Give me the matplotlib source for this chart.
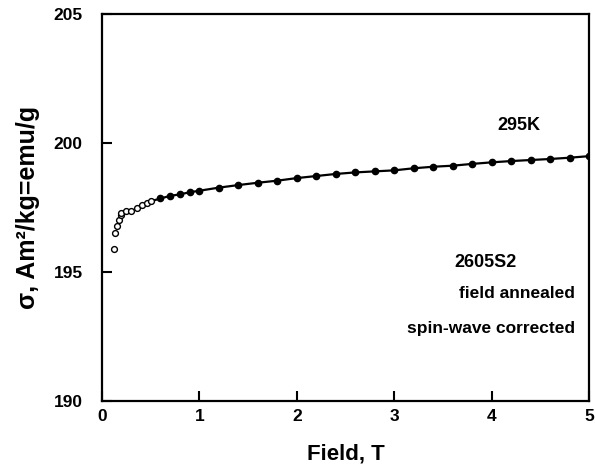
import matplotlib
matplotlib.use('Agg')
import matplotlib.pyplot as plt
import numpy as np

plt.rcParams['font.family'] = ['Liberation Sans', 'DejaVu Sans']
plt.rcParams['font.weight'] = 'bold'

# low-field points (open circles)
field_open = [0.12, 0.13, 0.15, 0.17, 0.19, 0.20, 0.25, 0.30, 0.36, 0.41, 0.46, 0.50]
sigma_open = [195.9, 196.5, 196.8, 197.0, 197.2, 197.3, 197.35, 197.37, 197.49, 197.59, 197.68, 197.74]

# higher-field points (filled circles)
field_fill = [0.6, 0.7, 0.8, 0.9, 1.0, 1.2, 1.4, 1.6, 1.8, 2.0, 2.2, 2.4, 2.6,
              2.8, 3.0, 3.2, 3.4, 3.6, 3.8, 4.0, 4.2, 4.4, 4.6, 4.8, 5.0]
sigma_fill = [197.85, 197.95, 198.01, 198.09, 198.15, 198.27, 198.37, 198.46,
              198.54, 198.64, 198.72, 198.80, 198.86, 198.90, 198.94, 199.02,
              199.08, 199.12, 199.19, 199.25, 199.30, 199.34, 199.38, 199.43, 199.49]

xticks = [0, 1, 2, 3, 4, 5]
yticks = [190, 195, 200, 205]

fig = plt.figure(figsize=(5.95, 4.66), dpi=100)
ax = fig.add_axes([102 / 595, 1 - 401 / 466, 487 / 595, 387 / 466])

# fitted line through the upper part of the curve
line_x = field_open[-2:] + field_fill
line_y = sigma_open[-2:] + sigma_fill
ax.plot(line_x, line_y, color='black', lw=1.6, zorder=2)

ax.plot(field_fill, sigma_fill, 'o', color='black', ms=4.5, zorder=3)
ax.plot(field_open, sigma_open, 'o', mfc='white', mec='black', mew=1.0, ms=4.2, zorder=3)

ax.set_xlim(0, 5)
ax.set_ylim(190, 205)
ax.set_xticks(xticks)
ax.set_yticks(yticks)
ax.tick_params(direction='in', length=7, width=1.5, labelsize=12.5)
ax.tick_params(axis='x', pad=6)
ax.tick_params(axis='y', pad=14)
for lab in ax.get_xticklabels() + ax.get_yticklabels():
    lab.set_fontweight('bold')
for sp in ax.spines.values():
    sp.set_linewidth(1.6)

ax.set_xlabel('Field, T', fontsize=16, fontweight='bold', labelpad=14)
ax.set_ylabel('σ, Am²/kg=emu/g', fontsize=18, fontweight='bold', labelpad=10)

ax.text(4.28, 200.69, '295K', ha='center', va='center', fontsize=13, fontweight='bold')
ax.text(3.94, 195.35, '2605S2', ha='center', va='center', fontsize=13, fontweight='bold')
ax.text(4.86, 194.15, 'field annealed', ha='right', va='center', fontsize=12.5, fontweight='bold')
ax.text(4.86, 192.8, 'spin-wave corrected', ha='right', va='center', fontsize=12.5, fontweight='bold')

fig.savefig('out.png', dpi=100)
